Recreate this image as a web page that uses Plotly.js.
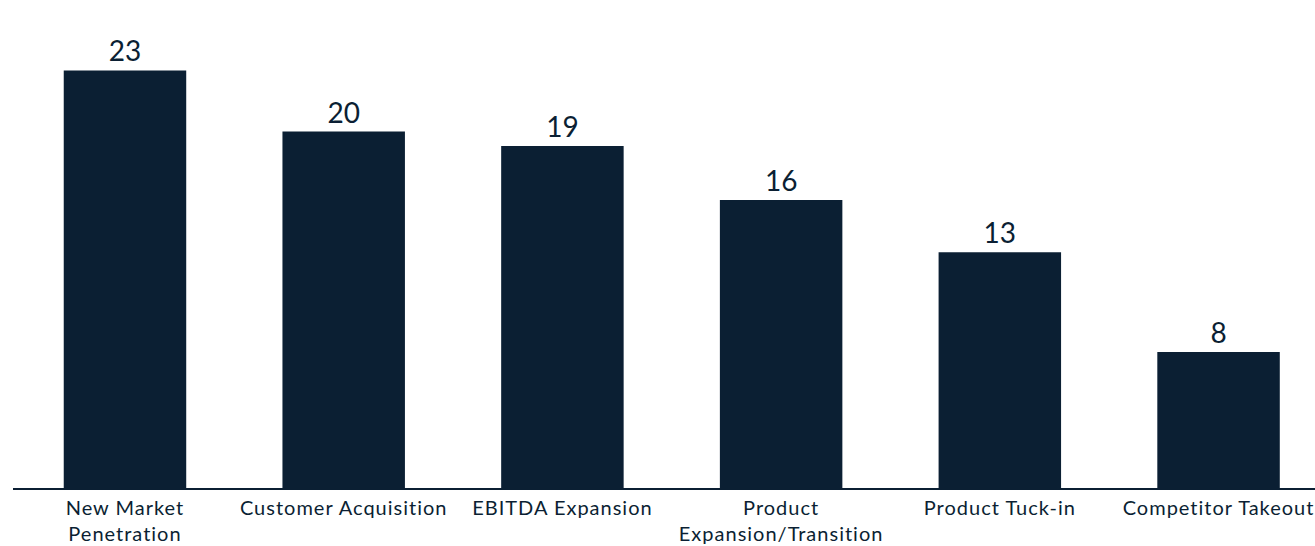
<!DOCTYPE html>
<html>
<head>
<meta charset="utf-8">
<script src="https://cdn.plot.ly/plotly-3.0.1.min.js"></script>
<style>html,body{margin:0;padding:0;background:#fff;}#chart{width:1315px;height:546px;}svg text{font-variant-ligatures:none;font-feature-settings:"liga" 0;}.xtick text{letter-spacing:1px;}</style>
</head>
<body>
<div id="chart"></div>
<script>
const categories = ["New Market<br>Penetration", "Customer Acquisition", "EBITDA Expansion", "Product<br>Expansion/Transition", "Product Tuck-in", "Competitor Takeout"];
const values = [23.2, 19.8, 19.0, 16.0, 13.1, 7.55];
const valueLabels = ["23", "20", "19", "16", "13", "8"];

const navy = "#0b1f33";
const trace = {
  type: "bar",
  x: categories,
  y: values,
  text: valueLabels,
  textposition: "outside",
  texttemplate: "%{text}",
  cliponaxis: false,
  textfont: {family: "Lato, 'Open Sans', sans-serif", size: 28, color: navy},
  marker: {color: navy},
  hoverinfo: "none"
};
const layout = {
  width: 1315, height: 546,
  margin: {l: 13, r: 0, t: 38, b: 58},
  paper_bgcolor: "#fff", plot_bgcolor: "#fff",
  bargap: 0.44,
  showlegend: false,
  font: {family: "Lato, 'Open Sans', sans-serif", color: navy},
  xaxis: {
    type: "category",
    range: [-0.512, 5.441],
    showline: true, linecolor: navy, linewidth: 2,
    showgrid: false, zeroline: false, ticks: "",
    ticklabelstandoff: 1,
    tickfont: {family: "Lato, 'Open Sans', sans-serif", size: 20, color: navy},
    automargin: false
  },
  yaxis: {range: [0, 25], visible: false, showgrid: false, zeroline: false}
};
Plotly.newPlot("chart", [trace], layout, {displayModeBar: false, staticPlot: true});
</script>
</body>
</html>
